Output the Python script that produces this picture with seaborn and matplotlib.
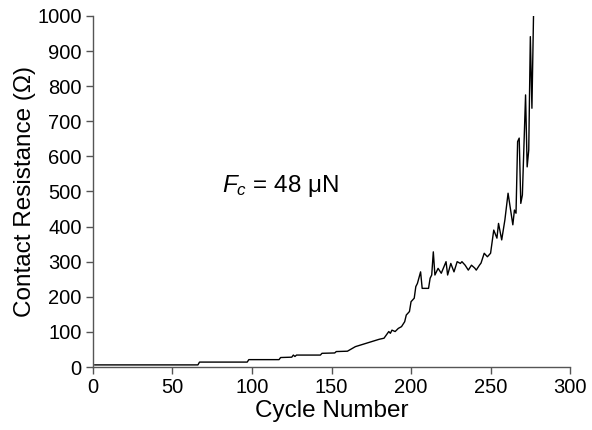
import matplotlib
matplotlib.use("Agg")
import matplotlib.pyplot as plt
import seaborn as sns
import pandas as pd

cycles = [1, 66, 67, 97, 98, 117, 118, 125, 126, 127, 128, 143, 144, 152, 153, 160,
          165, 170, 175, 180, 183, 186, 187, 188, 190, 192, 194, 196, 197, 199, 200,
          201, 202, 203, 204, 206, 207, 211, 212, 213, 214, 215, 217, 219, 222, 223,
          225, 227, 229, 231, 232, 234, 236, 238, 240, 241, 243, 244, 246, 248, 250,
          252, 254, 255, 257, 259, 261, 264, 265, 266, 267, 268, 269, 270, 272, 273,
          274, 275, 276, 277]
resistance = [6, 6, 14, 14, 21, 21, 27, 28, 34, 30, 34, 34, 39, 40, 44, 45,
              58, 65, 72, 79, 82, 101, 96, 105, 101, 110, 115, 129, 148, 158, 186,
              191, 196, 229, 238, 271, 224, 224, 253, 262, 328, 262, 281, 267, 300, 262,
              295, 271, 300, 295, 300, 290, 276, 290, 282, 276, 290, 296, 324, 314, 324,
              390, 367, 409, 362, 419, 495, 405, 447, 438, 642, 652, 466, 490, 775, 570,
              618, 941, 737, 1000]

xticks = [0, 50, 100, 150, 200, 250, 300]
yticks = [0, 100, 200, 300, 400, 500, 600, 700, 800, 900, 1000]

df = pd.DataFrame({"cycle": cycles, "res": resistance})

sns.set_style("ticks")
plt.rcParams["font.family"] = ["Liberation Sans", "DejaVu Sans"]
plt.rcParams["mathtext.fontset"] = "custom"
plt.rcParams["mathtext.it"] = "Liberation Sans:italic"
plt.rcParams["mathtext.rm"] = "Liberation Sans"
plt.rcParams["text.color"] = "black"
plt.rcParams["axes.labelcolor"] = "black"
plt.rcParams["xtick.labelcolor"] = "black"
plt.rcParams["ytick.labelcolor"] = "black"

fig = plt.figure(figsize=(5.92, 4.30), dpi=100)
ax = fig.add_axes([0.157, 0.1465, 0.806, 0.8165])
sns.lineplot(data=df, x="cycle", y="res", ax=ax, color="black", linewidth=1.0,
             estimator=None, sort=False)

ax.set_xlim(0, 300)
ax.set_ylim(0, 1000)
ax.set_xticks(xticks)
ax.set_yticks(yticks)
ax.tick_params(axis="both", labelsize=14.5, direction="out", length=5, width=1,
               color="#555555", labelcolor="black", pad=3)
for s in ["top", "right"]:
    ax.spines[s].set_visible(False)
for s in ["left", "bottom"]:
    ax.spines[s].set_color("#555555")
    ax.spines[s].set_linewidth(1)
ax.set_xlabel("Cycle Number", fontsize=17.5, labelpad=2, color="black")
ax.set_ylabel("Contact Resistance (Ω)", fontsize=17.5, labelpad=1, color="black")
ax.text(81, 515, r"$F_c$ = 48 μN", fontsize=17.5, va="center", ha="left", color="black")

fig.savefig("out.png", dpi=100)
